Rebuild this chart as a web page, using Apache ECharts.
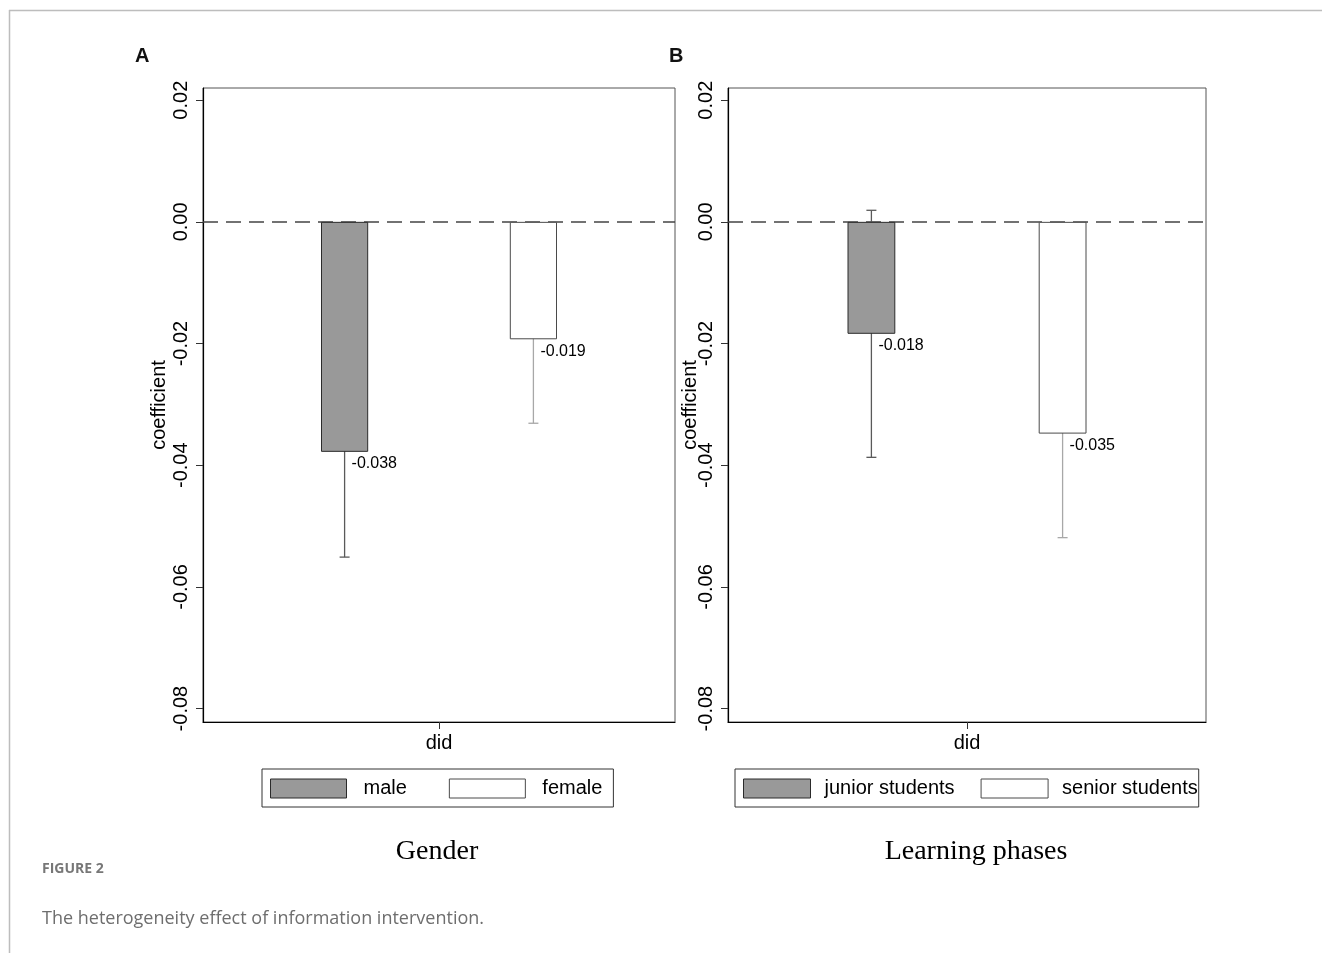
<!DOCTYPE html>
<html>
<head>
<meta charset="utf-8">
<script src="https://cdn.jsdelivr.net/npm/echarts@6/dist/echarts.min.js"></script>
<style>
html,body{margin:0;padding:0;background:#fff;}
#chart{width:1322px;height:953px;}
</style>
</head>
<body>
<div id="chart"></div>
<script>
// ---- data ----
const categories = ['did'];
const yTicks = [-0.08, -0.06, -0.04, -0.02, 0.00, 0.02];

const genderNames = ['male', 'female'];
const genderCoef = [-0.0378, -0.0193];
const genderLow  = [-0.0551, -0.0331];
const genderHigh = [-0.0205, -0.0055];

const phaseNames = ['junior students', 'senior students'];
const phaseCoef = [-0.0184, -0.0348];
const phaseLow  = [-0.0387, -0.0519];
const phaseHigh = [0.0019, -0.0177];

const panelTitles = ['A', 'B'];
const panelCaptions = ['Gender', 'Learning phases'];
const figLabel = 'FIGURE 2';
const figCaption = 'The heterogeneity effect of information intervention.';

// ---- styles ----
const SANS = '"Liberation Sans", Arial, Helvetica, sans-serif';
const barStyles = [
  {color: '#999999', borderColor: '#2b2b2b', borderWidth: 1},
  {color: '#ffffff', borderColor: '#4a4a4a', borderWidth: 1}
];
const errColors = ['#5a5a5a', '#a8a8a8'];
const offsets = [-0.2, 0.2];

const grids = [
  {left: 203, top: 88, width: 472, height: 634},
  {left: 728, top: 88, width: 478, height: 634}
];

function yAxis(gi, nameGap) {
  return {
    type: 'value', gridIndex: gi, min: -0.0822, max: 0.022,
    name: 'coefficient', nameLocation: 'middle', nameGap: nameGap, nameRotate: 90,
    nameMoveOverlap: false,
    nameTextStyle: {fontFamily: SANS, fontSize: 20, color: '#000'},
    axisLine: {show: true, onZero: false, lineStyle: {color: '#000', width: 1.2}},
    axisTick: {show: true, length: 7, lineStyle: {color: '#333'}, customValues: yTicks},
    axisLabel: {
      customValues: yTicks, rotate: 90, margin: 12,
      fontFamily: SANS, fontSize: 20, color: '#000',
      formatter: v => v.toFixed(2)
    },
    splitLine: {show: false}
  };
}
function xAxis(gi) {
  return {
    type: 'category', gridIndex: gi, data: categories, position: 'bottom',
    axisLine: {show: true, onZero: false, lineStyle: {color: '#000', width: 1.2}},
    axisTick: {show: true, alignWithLabel: true, length: 7, lineStyle: {color: '#333'}},
    axisLabel: {fontFamily: SANS, fontSize: 20, color: '#000', margin: 11},
    splitLine: {show: false}
  };
}

function barSeries(gi, name, val, k, withZero) {
  const s = {
    type: 'bar', name: name, xAxisIndex: gi, yAxisIndex: gi,
    data: [val], barWidth: '10%', barGap: '300%',
    itemStyle: barStyles[k], z: 3, silent: true
  };
  if (withZero) {
    s.markLine = {
      silent: true, symbol: 'none', label: {show: false}, z: 1,
      lineStyle: {type: [15, 8], color: '#444', width: 1.5},
      data: [{yAxis: 0}]
    };
  }
  return s;
}
function errSeries(gi, k, coef, low, high) {
  return {
    type: 'custom', xAxisIndex: gi, yAxisIndex: gi, z: 2, silent: true,
    data: [[0, low, high, coef]],
    renderItem: function (params, api) {
      const band = api.size([1, 0])[0];
      const c = api.coord([api.value(0), api.value(3)]);
      const lo = api.coord([api.value(0), api.value(1)]);
      const hi = api.coord([api.value(0), api.value(2)]);
      const x = c[0] + offsets[k] * band;
      const hw = 5;
      const ls = {stroke: errColors[k], lineWidth: 1.3};
      return {
        type: 'group',
        children: [
          {type: 'line', shape: {x1: x, y1: lo[1], x2: x, y2: hi[1]}, style: ls},
          {type: 'line', shape: {x1: x - hw, y1: lo[1], x2: x + hw, y2: lo[1]}, style: ls},
          {type: 'line', shape: {x1: x - hw, y1: hi[1], x2: x + hw, y2: hi[1]}, style: ls},
          {type: 'text', z2: 10, style: {
            text: api.value(3).toFixed(3), x: x + 7, y: c[1] + 12,
            fill: '#000', font: '16px ' + SANS,
            verticalAlign: 'middle', textVerticalAlign: 'middle'
          }}
        ]
      };
    }
  };
}

function legend(gi, names, left, itemW, textPad, gap) {
  return {
    left: left, top: 769, orient: 'horizontal',
    data: names, itemWidth: itemW, itemHeight: 19, itemGap: gap,
    padding: [8, gi === 0 ? 11 : 1, 7, 8],
    borderColor: '#333', borderWidth: 1, selectedMode: false,
    icon: 'rect',
    itemStyle: {borderWidth: 1},
    textStyle: {fontFamily: SANS, fontSize: 20, color: '#000', padding: [4, 0, 0, textPad], lineHeight: 19}
  };
}

function txt(text, x, y, font, fill, align) {
  return {type: 'text', x: x, y: y, style: {
    text: text, font: font, fill: fill,
    align: align || 'left', textAlign: align || 'left',
    verticalAlign: 'middle', textVerticalAlign: 'middle'
  }};
}

const option = {
  animation: false,
  backgroundColor: '#fff',
  grid: grids.map(g => Object.assign({show: true, borderColor: '#555', borderWidth: 1, backgroundColor: 'transparent'}, g)),
  xAxis: [xAxis(0), xAxis(1)],
  yAxis: [yAxis(0, 34), yAxis(1, 28)],
  legend: [
    legend(0, genderNames, 262, 76, 12, 42),
    legend(1, phaseNames, 735, 67, 9, 26)
  ],
  series: [
    barSeries(0, genderNames[0], genderCoef[0], 0, true),
    barSeries(0, genderNames[1], genderCoef[1], 1, false),
    errSeries(0, 0, genderCoef[0], genderLow[0], genderHigh[0]),
    errSeries(0, 1, genderCoef[1], genderLow[1], genderHigh[1]),
    barSeries(1, phaseNames[0], phaseCoef[0], 0, true),
    barSeries(1, phaseNames[1], phaseCoef[1], 1, false),
    errSeries(1, 0, phaseCoef[0], phaseLow[0], phaseHigh[0]),
    errSeries(1, 1, phaseCoef[1], phaseLow[1], phaseHigh[1])
  ],
  graphic: [
    {type: 'line', shape: {x1: 9, y1: 10.5, x2: 1322, y2: 10.5}, style: {stroke: '#bdbdbd', lineWidth: 1.5}},
    {type: 'line', shape: {x1: 9.5, y1: 10, x2: 9.5, y2: 953}, style: {stroke: '#bdbdbd', lineWidth: 1.5}},
    txt(panelTitles[0], 135, 56, 'bold 20px ' + SANS, '#111'),
    txt(panelTitles[1], 669, 56, 'bold 20px ' + SANS, '#111'),
    txt(panelCaptions[0], 437, 852, '28px "Liberation Serif", "Times New Roman", serif', '#000', 'center'),
    txt(panelCaptions[1], 976, 852, '28px "Liberation Serif", "Times New Roman", serif', '#000', 'center'),
    txt(figLabel, 42, 869, 'bold 14px "Open Sans", Lato, sans-serif', '#777'),
    txt(figCaption, 42, 919, '18px "Open Sans", Lato, sans-serif', '#6e6e6e')
  ]
};

const chart = echarts.init(document.getElementById('chart'), null, {renderer: 'canvas'});
chart.setOption(option);
</script>
</body>
</html>
